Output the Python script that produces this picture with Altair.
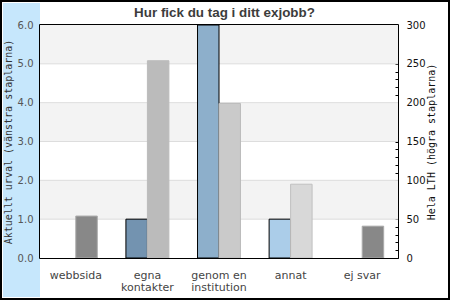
import altair as alt
import pandas as pd

categories = ["webbsida", "egna kontakter", "genom en institution", "annat", "ej svar"]
urval = [0, 1, 6, 1, 0]            # Aktuellt urval (left axis)
hela_lth = [54, 254, 199, 95, 41]  # Hela LTH (right axis)
urval_fill = ["#7393b0", "#7393b0", "#8dafcb", "#abcde9", "#abcde9"]
lth_fill = ["#888888", "#bbbbbb", "#cacaca", "#d8d8d8", "#888888"]
lth_stroke = ["#aaaaaa", "#bbbbbb", "#bbbbbb", "#c0c0c0", "#aaaaaa"]
band_lo = [1, 3, 5]
band_hi = [2, 4, 6]
grid_vals = [1, 2, 3, 4, 5]
left_ticks = [0, 1, 2, 3, 4, 5, 6]
right_ticks = list(range(0, 301, 10))
title_text = ["Hur fick du tag i ditt exjobb?"]

W, H = 358, 233

left_df = pd.DataFrame({"cat": categories, "val": urval, "fill": urval_fill, "s": "a"})
left_df = left_df[left_df["val"] > 0]
right_df = pd.DataFrame({"cat": categories, "val": hela_lth, "fill": lth_fill,
                         "stroke": lth_stroke, "s": "b"})
bands_df = pd.DataFrame({"lo": band_lo, "hi": band_hi})
grid_df = pd.DataFrame({"g": grid_vals})
one = pd.DataFrame({"a": [0]})
title_df = pd.DataFrame({"t": title_text})

label_expr = ("datum.label == 'egna kontakter' ? ['egna', 'kontakter'] : "
              "datum.label == 'genom en institution' ? ['genom en', 'institution'] : datum.label")

x_enc = alt.X("cat:N", sort=categories,
              scale=alt.Scale(paddingInner=0.4, paddingOuter=0.2),
              axis=alt.Axis(title=None, labelExpr=label_expr, ticks=False, domain=False,
                            labelAngle=0, labelFont="DejaVu Sans", labelFontSize=11,
                            labelColor="#444444", labelPadding=11, labelLineHeight=12))
xo_enc = alt.XOffset("s:N", scale=alt.Scale(domain=["a", "b"]))

left_axis = alt.Axis(orient="left", title="Aktuellt urval (vänstra staplarna)", format=".1f",
                     values=left_ticks, grid=False, ticks=False, domain=False, labelPadding=7,
                     labelFont="DejaVu Sans", labelFontSize=10, labelColor="#555555",
                     titleFont="DejaVu Sans Mono", titleFontSize=10, titleFontWeight="normal",
                     titleColor="#333333", titlePadding=4, zindex=1)
left_scale = alt.Scale(domain=[0, 6])

border = alt.Chart(one).mark_rect(filled=False, stroke="black", strokeWidth=2).encode(
    x=alt.value(-39), x2=alt.value(409), y=alt.value(-24), y2=alt.value(274))

strip = alt.Chart(one).mark_rect(color="#c6e7fc").encode(
    x=alt.value(-37), x2=alt.value(0), y=alt.value(-22), y2=alt.value(272))

bands = alt.Chart(bands_df).mark_rect(color="#f3f3f3").encode(
    x=alt.value(0), x2=alt.value(W),
    y=alt.Y("lo:Q", scale=left_scale, axis=left_axis), y2="hi:Q")

grid = alt.Chart(grid_df).mark_rule(color="#dddddd", strokeWidth=1).encode(
    x=alt.value(0), x2=alt.value(W),
    y=alt.Y("g:Q", scale=left_scale, axis=left_axis))

left_bars = alt.Chart(left_df).mark_bar(stroke="black", strokeWidth=1).encode(
    x=x_enc, xOffset=xo_enc,
    y=alt.Y("val:Q", scale=left_scale, axis=left_axis),
    color=alt.Color("fill:N", scale=None))

right_bars = alt.Chart(right_df).mark_bar(strokeWidth=1).encode(
    x=x_enc, xOffset=xo_enc,
    y=alt.Y("val:Q", scale=alt.Scale(domain=[0, 300]),
            axis=alt.Axis(orient="right", values=right_ticks,
                          labelExpr="datum.value % 50 == 0 ? datum.label : ''",
                          labelOverlap=False, offset=-3, domain=False, grid=False,
                          tickSize=3, tickColor="#000000", labelPadding=8,
                          labelFont="DejaVu Sans", labelFontSize=10, labelColor="#111111",
                          title="Hela LTH (högra staplarna)", titleAngle=270,
                          titleFont="DejaVu Sans Mono", titleFontSize=10,
                          titleFontWeight="normal", titleColor="#111111", titlePadding=11)),
    color=alt.Color("fill:N", scale=None),
    stroke=alt.Stroke("stroke:N", scale=None))

frame = alt.Chart(one).mark_rect(filled=False, stroke="black", strokeWidth=1).encode(
    x=alt.value(-0.5), x2=alt.value(W + 0.5), y=alt.value(-0.5), y2=alt.value(H + 0.5))

title = alt.Chart(title_df).mark_text(font="Liberation Sans", fontSize=13.4, fontWeight="bold",
                                      color="#3c3c3c", align="center", baseline="alphabetic").encode(
    text="t:N", x=alt.value(184.5), y=alt.value(-8))

left_group = alt.layer(border, strip, bands, grid, left_bars)

chart = alt.layer(left_group, right_bars, frame, title).resolve_scale(
    y="independent"
).properties(
    width=W, height=H,
    autosize=alt.AutoSizeParams(type="none"),
    padding={"left": 40, "top": 25, "right": 52, "bottom": 42},
    background="white",
).configure_view(stroke=None)

chart.save("out.html", embed_options={"renderer": "svg", "actions": False})
